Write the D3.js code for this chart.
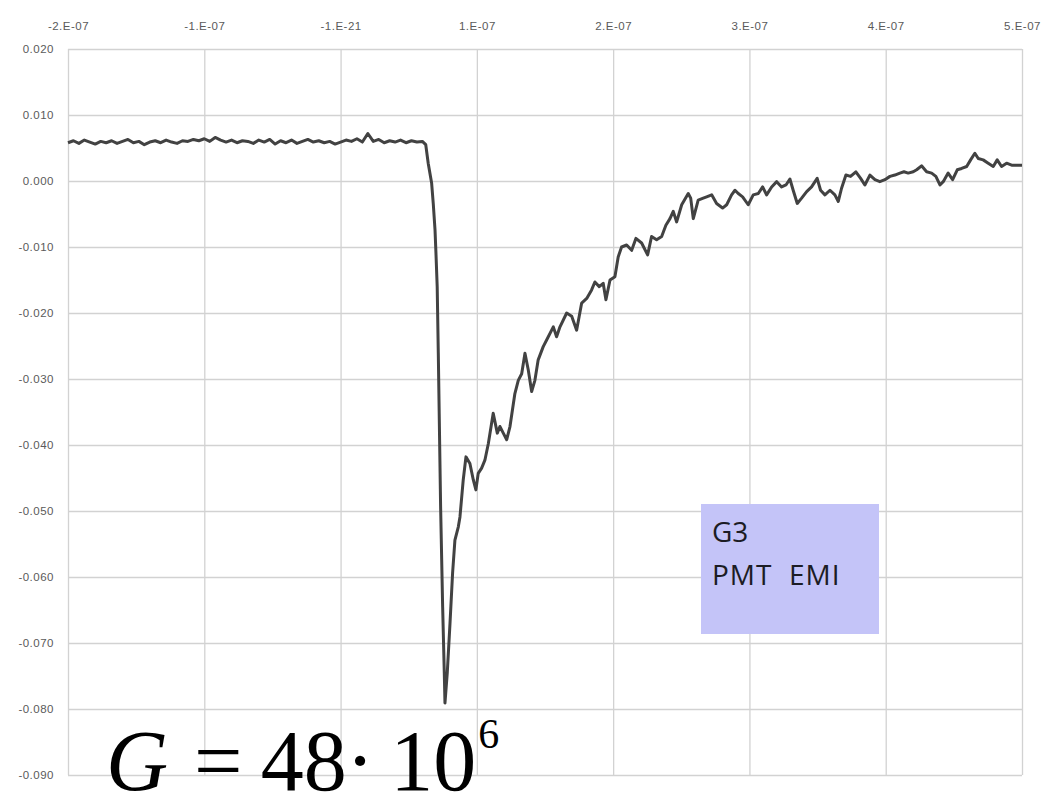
<!DOCTYPE html>
<html lang="en">
<head>
    <meta charset="utf-8">
    <title>G3 PMT EMI pulse</title>
    <script src="https://cdnjs.cloudflare.com/ajax/libs/d3/7.8.5/d3.min.js"></script>
    <style>
        html, body { margin: 0; padding: 0; background: #fff; }
        .tick text { font-family: "Liberation Sans", Arial, sans-serif; fill: #5a5a5a; }
    </style>
</head>
<body>
<div id="chart"></div>
<script>
    // time in ns, signal in V
    var xTickValues = [-200, -100, 0, 100, 200, 300, 400, 500];
    var xTickLabels = ["-2.E-07", "-1.E-07", "-1.E-21", "1.E-07", "2.E-07", "3.E-07", "4.E-07", "5.E-07"];
    var yTickValues = [0.02, 0.01, 0, -0.01, -0.02, -0.03, -0.04, -0.05, -0.06, -0.07, -0.08, -0.09];
    var yTickLabels = ["0.020", "0.010", "0.000", "-0.010", "-0.020", "-0.030", "-0.040", "-0.050", "-0.060", "-0.070", "-0.080", "-0.090"];

    // flat part before the pulse
    var baseTime = [-200, -196, -192, -188, -184, -180, -176, -172, -168, -164, -160, -156, -152, -148, -144, -140,
        -136, -132, -128, -124, -120, -116, -112, -108, -104, -100, -96, -92, -88, -84, -80, -76, -72, -68, -64,
        -60, -56, -52, -48, -44, -40, -36, -32, -28, -24, -20, -16, -12, -8, -4, 0, 4, 8, 12, 16, 20, 24, 28,
        32, 36, 40, 44, 48, 52, 56, 60];
    var baseSignal = [0.0058, 0.0061, 0.0057, 0.0062, 0.0059, 0.0056, 0.0060, 0.0058, 0.0061, 0.0057, 0.0060, 0.0063,
        0.0058, 0.0060, 0.0055, 0.0059, 0.0061, 0.0058, 0.0062, 0.0059, 0.0057, 0.0061, 0.0060, 0.0063, 0.0061,
        0.0064, 0.0060, 0.0066, 0.0062, 0.0059, 0.0062, 0.0058, 0.0061, 0.0060, 0.0057, 0.0062, 0.0059, 0.0063,
        0.0056, 0.0061, 0.0058, 0.0062, 0.0057, 0.0060, 0.0063, 0.0059, 0.0061, 0.0058, 0.0060, 0.0056, 0.0059,
        0.0062, 0.0060, 0.0064, 0.0059, 0.0072, 0.0060, 0.0063, 0.0058, 0.0061, 0.0059, 0.0062, 0.0058, 0.0061,
        0.0059, 0.0060];

    // the pulse and its recovery
    var pulseTime = [62.5, 64.3, 66.8, 68.0, 69.3, 70.0, 70.9, 71.7, 73.4, 74.9, 76.1, 76.6, 78.3, 80.3, 82.2, 83.9,
        86.4, 87.6, 90.0, 92.0, 94.9, 97.4, 99.3, 101.0, 103.5, 105.9, 108.4, 112.0, 115.0, 116.9, 119.4, 121.9,
        124.3, 127.9, 130.4, 132.9, 135.3, 137.7, 140.2, 142.6, 145.0, 148.7, 151.2, 156.1, 158.5, 161.0, 165.9,
        169.6, 173.2, 176.9, 180.6, 184.2, 186.6, 189.8, 192.7, 194.7, 197.7, 201.3, 203.7, 206.2, 209.9, 213.6,
        216.7, 220.9, 225.3, 228.2, 231.9, 235.6, 238.7, 241.7, 244.1, 246.6, 250.3];
    var pulseSignal = [0.0055, 0.0027, -0.0003, -0.0034, -0.0074, -0.0110, -0.0160, -0.0260, -0.0493, -0.0645,
        -0.0745, -0.0791, -0.0745, -0.0670, -0.0594, -0.0544, -0.0524, -0.0509, -0.0453, -0.0418, -0.0428, -0.0453,
        -0.0468, -0.0443, -0.0435, -0.0423, -0.0398, -0.0352, -0.0382, -0.0372, -0.0382, -0.0392, -0.0372, -0.0322,
        -0.0302, -0.0292, -0.0261, -0.0286, -0.0319, -0.0302, -0.0271, -0.0251, -0.0241, -0.0221, -0.0236, -0.0221,
        -0.0200, -0.0205, -0.0226, -0.0185, -0.0178, -0.0165, -0.0153, -0.0160, -0.0155, -0.0180, -0.0150, -0.0145,
        -0.0115, -0.0100, -0.0097, -0.0105, -0.0087, -0.0094, -0.0112, -0.0084, -0.0089, -0.0084, -0.0067, -0.0057,
        -0.0046, -0.0062, -0.0036];

    // slow tail
    var tailTime = [255.1, 256.9, 258.8, 262.4, 266.1, 268.6, 272.3, 275.9, 280.3, 283.3, 286.9, 289.4, 291.8, 295.0,
        299.1, 302.8, 306.5, 309.7, 312.6, 316.3, 320.0, 323.6, 326.8, 329.7, 332.1, 335.1, 338.3, 342.0, 345.6,
        349.7, 352.2, 355.4, 359.1, 362.7, 365.2, 367.6, 370.8, 374.2, 378.1, 381.6, 384.7, 388.4, 392.1, 395.7,
        399.4, 403.1, 406.7, 410.4, 413.4, 416.5, 420.2, 422.7, 426.3, 430.0, 433.7, 436.8, 439.8, 442.2, 445.8,
        449.1, 452.5, 455.7, 459.4, 462.3, 465.4, 467.9, 471.5, 475.2, 478.9, 481.8, 485.0, 488.7, 492.4, 496.0, 500];
    var tailSignal = [-0.0019, -0.0026, -0.0057, -0.0029, -0.0026, -0.0024, -0.0021, -0.0034, -0.0041, -0.0036,
        -0.0021, -0.0014, -0.0019, -0.0024, -0.0036, -0.0021, -0.0019, -0.0009, -0.0021, -0.0009, -0.0001, -0.0009,
        -0.0006, 0.0003, -0.0014, -0.0034, -0.0026, -0.0016, -0.0009, 0.0004, -0.0014, -0.0021, -0.0014, -0.0021,
        -0.0031, -0.0011, 0.0009, 0.0007, 0.0014, 0.0004, -0.0006, 0.0009, 0.0002, -0.0001, 0.0002, 0.0007, 0.0009,
        0.0012, 0.0014, 0.0012, 0.0014, 0.0017, 0.0023, 0.0014, 0.0012, 0.0007, -0.0006, -0.0001, 0.0012, 0.0002,
        0.0017, 0.0019, 0.0022, 0.0032, 0.0042, 0.0034, 0.0032, 0.0027, 0.0022, 0.0032, 0.0022, 0.0027, 0.0024,
        0.0024, 0.0024];

    var width = 1041, height = 795;
    var margin = {top: 49, right: 19, bottom: 20, left: 68};

    var svg = d3.select("#chart").append("svg")
        .attr("width", width)
        .attr("height", height);

    var x = d3.scaleLinear().domain([-200, 500]).range([margin.left, width - margin.right]);
    var y = d3.scaleLinear().domain([-0.09, 0.02]).range([height - margin.bottom, margin.top]);

    // horizontal gridlines + labels
    var yAxis = d3.axisLeft(y)
        .tickValues(yTickValues)
        .tickFormat(function (d, i) { return yTickLabels[i]; })
        .tickSize(-(x.range()[1] - x.range()[0]))
        .tickPadding(14);
    var gy = svg.append("g").attr("transform", "translate(" + margin.left + ",0)").call(yAxis);
    gy.select(".domain").remove();
    gy.selectAll(".tick line").attr("stroke", "#d2d2d2").attr("stroke-width", 1.3);
    gy.selectAll(".tick text").attr("font-size", 11.5).attr("letter-spacing", "0.5px");

    // vertical gridlines + labels on top
    var xAxis = d3.axisTop(x)
        .tickValues(xTickValues)
        .tickFormat(function (d, i) { return xTickLabels[i]; })
        .tickSize(-(y.range()[0] - y.range()[1]))
        .tickPadding(19);
    var gx = svg.append("g").attr("transform", "translate(0," + margin.top + ")").call(xAxis);
    gx.select(".domain").remove();
    gx.selectAll(".tick line").attr("stroke", "#d2d2d2").attr("stroke-width", 1.3);
    gx.selectAll(".tick text").attr("font-size", 11.5).attr("letter-spacing", "0.5px");

    var time = baseTime.concat(pulseTime, tailTime);
    var signal = baseSignal.concat(pulseSignal, tailSignal);

    var line = d3.line()
        .x(function (d, i) { return x(time[i]); })
        .y(function (d) { return y(d); });

    svg.append("path")
        .datum(signal)
        .attr("fill", "none")
        .attr("stroke", "#424242")
        .attr("stroke-width", 3)
        .attr("stroke-linejoin", "round")
        .attr("d", line);

    // label box
    svg.append("rect")
        .attr("x", 701).attr("y", 504)
        .attr("width", 178).attr("height", 130)
        .attr("fill", "#c4c4f8");
    svg.append("text")
        .attr("x", 712).attr("y", 542)
        .attr("font-family", "'Open Sans', sans-serif")
        .attr("font-size", 28)
        .attr("fill", "#1c1c24")
        .text("G3");
    svg.append("text")
        .attr("x", 712).attr("y", 585)
        .attr("font-family", "'Open Sans', sans-serif")
        .attr("font-size", 28)
        .attr("letter-spacing", "1px")
        .attr("fill", "#1c1c24")
        .attr("xml:space", "preserve")
        .style("white-space", "pre")
        .text("PMT  EMI");

    // gain formula
    var f = svg.append("text")
        .attr("x", 106).attr("y", 790)
        .attr("font-family", "'Liberation Serif', 'Times New Roman', serif")
        .attr("font-size", 86)
        .attr("fill", "#000");
    f.append("tspan").attr("font-style", "italic").text("G");
    f.append("tspan").attr("dx", 26).text("=");
    f.append("tspan").attr("dx", 18).text("48");
    f.append("tspan").attr("dx", -1).text("\u00b7");
    f.append("tspan").attr("dx", 16).text("10");
    f.append("tspan").attr("dy", -42).attr("dx", 2).attr("font-size", 42).text("6");
</script>
</body>
</html>
